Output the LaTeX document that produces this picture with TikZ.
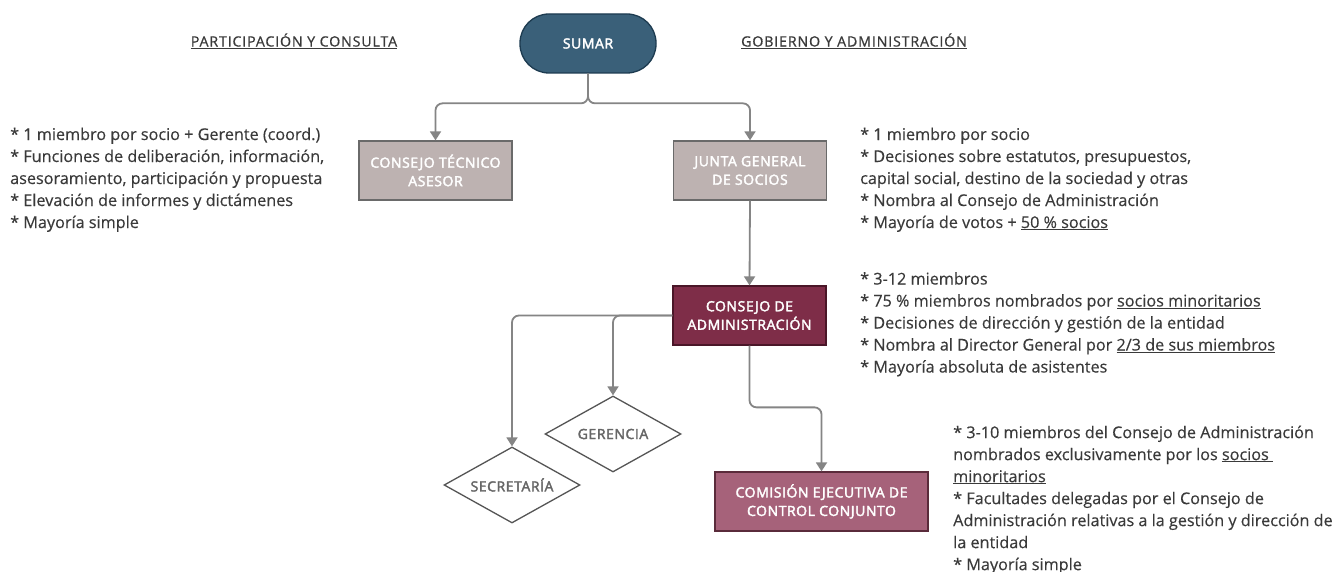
\documentclass[tikz,border=0pt]{standalone}
\usepackage{fontspec}
\setmainfont{Open Sans}
\newfontfamily\capsfont[LetterSpace=4,FakeBold=2.6]{Open Sans}
\newfontfamily\headfont[LetterSpace=6,FakeBold=0.8]{Open Sans}
\newfontfamily\notefont[FakeBold=0.3]{Open Sans}
\usetikzlibrary{arrows.meta,shapes.geometric}
\definecolor{txt}{HTML}{3A3A3A}
\definecolor{conn}{HTML}{858585}
\definecolor{sumarfill}{HTML}{3A6079}
\definecolor{sumardraw}{HTML}{1D3B50}
\definecolor{greyfill}{HTML}{BDB2B1}
\definecolor{greydraw}{HTML}{6A6A6A}
\definecolor{cafill}{HTML}{7E2D48}
\definecolor{cadraw}{HTML}{4A1628}
\definecolor{comfill}{HTML}{A6627A}
\definecolor{comdraw}{HTML}{5A2B3B}
\definecolor{diadraw}{HTML}{555555}
\definecolor{diatxt}{HTML}{666666}
\tikzset{
  boxlabel/.style={font=\capsfont\fontsize{14}{18.5}\selectfont, text=white, align=center, inner sep=0pt},
  orgbox/.style={boxlabel, rectangle, line width=1.3pt, minimum width=153pt, minimum height=59pt},
  greybox/.style={orgbox, fill=greyfill, draw=greydraw},
  stadium/.style={boxlabel, rectangle, rounded corners=29pt, line width=1.3pt, fill=sumarfill, draw=sumardraw, minimum width=136pt, minimum height=59pt},
  dia/.style={diamond, draw=diadraw, line width=1.3pt, fill=white, minimum width=136pt, minimum height=76pt, inner sep=0pt, aspect=1.8, text=diatxt, font=\capsfont\fontsize{14}{18.5}\selectfont},
  conn/.style={draw=conn, line width=1.8pt, rounded corners=7pt, -{Triangle[length=9pt,width=11pt]}},
  heading/.style={font=\headfont\fontsize{14.2}{18}\selectfont, text=txt, inner sep=0pt},
  note/.style={font=\notefont\fontsize{16.2}{22}\selectfont, text=txt, align=left, anchor=north west, inner sep=0pt},
}
\begin{document}
\begin{tikzpicture}[x=1pt,y=-1pt]
\useasboundingbox[fill=white] (0,0) rectangle (1339,572);

\node[stadium] (sumar) at (588,43.5) {SUMAR};
\node[heading] (hleft) at (294,41) {\underline{PARTICIPACIÓN Y CONSULTA}};
\node[heading] (hright) at (854,41) {\underline{GOBIERNO Y ADMINISTRACIÓN}};

\node[greybox] (cta) at (435.5,170.5) {CONSEJO TÉCNICO\\ASESOR};
\node[greybox] (junta) at (750,170.5) {JUNTA GENERAL\\DE SOCIOS};
\node[orgbox, fill=cafill, draw=cadraw] (ca) at (749.5,315.5) {CONSEJO DE\\ADMINISTRACIÓN};
\node[orgbox, fill=comfill, draw=comdraw, minimum width=213pt] (com) at (821.5,501.5) {COMISIÓN EJECUTIVA DE\\CONTROL CONJUNTO};
\node[dia] (ger) at (613,434) {GERENCIA};
\node[dia] (sec) at (512,485) {SECRETARÍA};

\draw[conn] (sumar.south) |- ([yshift=37pt]cta.north) -- (cta.north);
\draw[conn] (sumar.south) |- ([yshift=37pt]junta.north) -- (junta.north);
\draw[conn] (junta.south) -- (ca.north);
\draw[conn] (ca.west) -| (sec.north);
\draw[conn] (ca.west) -| (ger.north);
\draw[conn] (ca.south) |- ([yshift=64pt]com.north) -- (com.north);

\node[note] (tcta) at (10,127.5) {* 1 miembro por socio + Gerente (coord.)\\* Funciones de deliberación, información,\\asesoramiento, participación y propuesta\\* Elevación de informes y dictámenes\\* Mayoría simple};
\node[note] (tjunta) at (860,127.5) {* 1 miembro por socio\\* Decisiones sobre estatutos, presupuestos,\\capital social, destino de la sociedad y otras\\* Nombra al Consejo de Administración\\* Mayoría de votos + \underline{50 \% socios}};
\node[note] (tca) at (860,272) {* 3-12 miembros\\* 75 \% miembros nombrados por \underline{socios minoritarios}\\* Decisiones de dirección y gestión de la entidad\\* Nombra al Director General por \underline{2/3 de sus miembros}\\* Mayoría absoluta de asistentes};
\node[note] (tcom) at (953,425.5) {* 3-10 miembros del Consejo de Administración\\nombrados exclusivamente por los \underline{socios\ }\\\underline{minoritarios}\\* Facultades delegadas por el Consejo de\\Administración relativas a la gestión y dirección de\\la entidad\\* Mayoría simple};
\end{tikzpicture}
\end{document}
